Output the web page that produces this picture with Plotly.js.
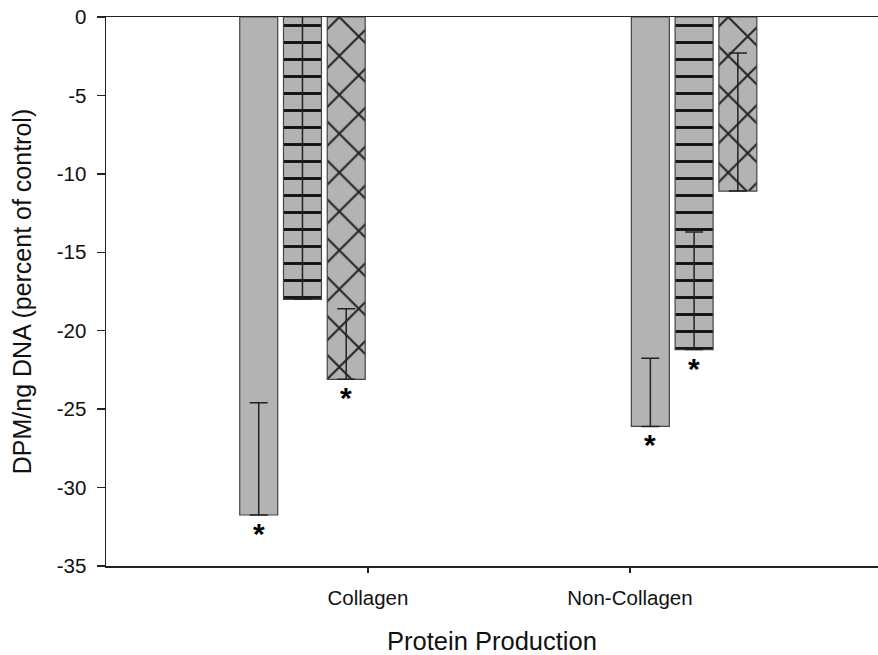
<!DOCTYPE html>
<html>
<head>
<meta charset="utf-8">
<script src="https://cdn.plot.ly/plotly-3.0.1.min.js"></script>
<style>html,body{margin:0;padding:0;background:#fff;}#chart{width:878px;height:655px;}</style>
</head>
<body>
<div id="chart"></div>
<script>
// Data
var categories = ["Collagen", "Non-Collagen"];
var categoryTicks = [1, 2];
var groupCenters = [0.75, 2.245];
var series1 = [-31.75, -26.1];
var series2 = [-18.0, -21.2];
var series3 = [-23.1, -11.1];
var err1 = [7.15, 4.35];
var err2 = [19.0, 7.5];
var err3 = [4.5, 8.8];
var sig1 = [true, true];
var sig2 = [false, true];
var sig3 = [true, false];
var yTickVals = [0, -5, -10, -15, -20, -25, -30, -35];
var yTickText = ["0", "-5", "-10", "-15", "-20", "-25", "-30", "-35"];

var barWidth = 0.145;
var step = 0.167;
var fill = "#b3b3b3";
var edge = "#444444";
var fontFam = "Liberation Sans, Arial, sans-serif";

var seriesList = [series1, series2, series3];
var errList = [err1, err2, err3];
var sigList = [sig1, sig2, sig3];
var patterns = [
  {shape: ""},
  {shape: "-", size: 17, solidity: 0.17, fgcolor: "#111111", fgopacity: 1, bgcolor: fill, fillmode: "overlay"},
  {shape: "x", size: 27.5, solidity: 0.14, fgcolor: "#222222", fgopacity: 1, bgcolor: fill, fillmode: "overlay"}
];

var traces = [];
var annotations = [];
seriesList.forEach(function (vals, i) {
  var centerOff = (i - 1) * step;
  traces.push({
    type: "bar",
    x: groupCenters,
    y: vals,
    width: barWidth,
    offset: centerOff - barWidth / 2,
    marker: {color: fill, line: {color: edge, width: 1.2}, pattern: patterns[i]},
    error_y: {type: "data", array: errList[i], arrayminus: [0, 0], symmetric: false,
              color: "#222222", thickness: 1.5, width: 9},
    showlegend: false,
    hoverinfo: "skip"
  });
  vals.forEach(function (v, j) {
    if (sigList[i][j]) {
      annotations.push({
        x: groupCenters[j] + centerOff, y: v, xref: "x", yref: "y",
        text: "<b>*</b>", showarrow: false, yanchor: "top", yshift: 0,
        font: {family: fontFam, size: 30, color: "#000"}
      });
    }
  });
});

var layout = {
  width: 878, height: 655,
  margin: {l: 106, r: 0, t: 17, b: 89},
  paper_bgcolor: "#fff", plot_bgcolor: "#fff",
  barmode: "overlay",
  font: {family: fontFam, color: "#111"},
  xaxis: {
    range: [0, 2.947], tickvals: categoryTicks, ticktext: categories,
    showgrid: false, zeroline: false, showline: true, linecolor: "#222", linewidth: 1.5,
    mirror: true, ticks: "outside", ticklen: 5, tickcolor: "#222", tickwidth: 1.5,
    tickfont: {size: 20.5}, ticklabelstandoff: 8,
    title: {text: "Protein Production", font: {size: 25.5}, standoff: 24}
  },
  yaxis: {
    range: [-35, 0], tickvals: yTickVals, ticktext: yTickText,
    showgrid: false, zeroline: false, showline: true, linecolor: "#222", linewidth: 1.5,
    ticks: "outside", ticklen: 8, tickcolor: "#222", tickwidth: 1.5,
    tickfont: {size: 20.5}, ticklabelstandoff: 6,
    title: {text: "DPM/ng DNA (percent of control)", font: {size: 25}, standoff: 18}
  },
  annotations: annotations
};

Plotly.newPlot("chart", traces, layout, {displayModeBar: false, staticPlot: true});
</script>
</body>
</html>
